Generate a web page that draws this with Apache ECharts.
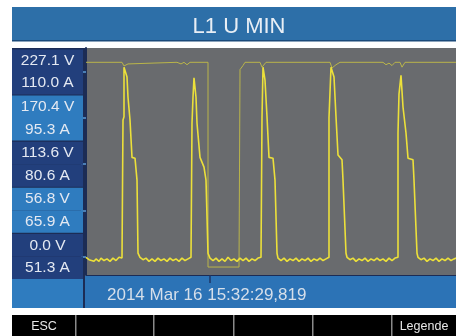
<!DOCTYPE html>
<html>
<head>
<meta charset="utf-8">
<script src="https://cdn.jsdelivr.net/npm/echarts@6/dist/echarts.min.js"></script>
<style>
  html, body { margin: 0; padding: 0; background: #fff; }
  #chart { width: 456px; height: 336px; }
</style>
</head>
<body>
<div id="chart"></div>
<script>
// screen texts
const titleText = "L1 U MIN";
const timestamp = "2014 Mar 16 15:32:29,819";
const softKeys = ["ESC", "", "", "", "", "Legende"];

// left scale: voltage ticks with the matching current labels
const voltTicks = [0, 56.8, 113.6, 170.4, 227.1];
const voltLabels = ["0.0 V", "56.8 V", "113.6 V", "170.4 V", "227.1 V"];
const ampLabels = ["51.3 A", "65.9 A", "80.6 A", "95.3 A", "110.0 A"];

// cursor position on the time axis (samples)
const cursorSample = [124];

// bright trace [sample, V]
const uMin = [
  [0, -1], [3, -4], [5, -2], [8, -6], [10, -3], [13, -6], [15, -2], [18, -5], [21, -3], [24, -6],
  [27, -2], [30, -5], [33, -1], [36, -2],
  [37, -1], [37, 168], [38, 172], [38, 233], [40, 233], [41, 221], [42, 196], [44, 168], [46, 122],
  [49, 121], [51, 94], [52, 4], [54, -1],
  [57, -4], [60, -2], [63, -6], [66, -3], [69, -6], [72, -2], [75, -5], [78, -3], [81, -6], [84, -2],
  [87, -5], [90, -3], [93, -6], [96, -2], [99, -5], [102, -3], [105, -1],
  [106, -1], [106, 164], [107, 196], [108, 220], [110, 196], [111, 164], [114, 122], [118, 110],
  [120, 94], [122, 4], [124, -2],
  [127, -5], [130, -2], [133, -6], [136, -3], [139, -6], [142, -1], [145, -5], [148, -3], [151, -6],
  [154, -2], [157, -5], [160, -2], [163, -6], [166, -3], [169, -5], [172, -2], [175, -1],
  [176, -1], [176, 171], [177, 233], [179, 217], [181, 172], [183, 122], [187, 121], [189, 94],
  [191, 4], [192, -2],
  [195, -5], [198, -2], [201, -6], [204, -3], [207, -5], [210, -2], [213, -6], [216, -3], [219, -5],
  [222, -2], [225, -6], [228, -3], [231, -5], [234, -2], [237, -5], [240, -3], [242, -1],
  [243, -1], [243, 171], [245, 233], [248, 221], [250, 172], [252, 125], [256, 119], [257, 94],
  [260, 4], [261, -1],
  [264, -4], [267, -2], [270, -6], [273, -3], [276, -5], [279, -2], [282, -6], [285, -3], [288, -5],
  [291, -2], [294, -5], [297, -3], [300, -6], [303, -2], [306, -5], [309, -2], [311, -1],
  [312, -1], [312, 152], [313, 200], [315, 223], [317, 184], [320, 152], [322, 121], [327, 119],
  [328, 94], [331, 4], [332, -1],
  [335, -4], [338, -2], [341, -6], [344, -3], [347, -5], [350, -2], [353, -6], [356, -3], [359, -5],
  [362, -2], [365, -5], [368, -3], [370, -2]
];

// dim trace [sample, V]
const uRef = [
  [0, 239], [36, 239], [38, 234.5], [42, 237], [44, 239], [91, 239], [95, 237], [98, 239],
  [101, 236], [104, 239], [122, 239], [122, -13], [153, -13], [154, 230], [157, 235], [159, 239],
  [174, 239], [176, 233], [180, 239], [244, 239], [246, 232], [250, 236], [254, 239], [297, 239],
  [300, 236], [303, 238], [306, 235], [309, 239], [314, 239], [316, 233], [319, 239], [370, 239]
];

const chart = echarts.init(document.getElementById("chart"));

const font = "Liberation Sans, Arial, sans-serif";
const boxStyle = function (bg) {
  return {
    backgroundColor: bg,
    width: 71,
    height: 22.5,
    lineHeight: 22.5,
    align: "center",
    color: "#e4e9f2",
    fontSize: 15.5,
    fontFamily: font
  };
};

const keyEdges = [12, 76, 154, 234, 313, 392, 456];
const keyGraphics = [];
softKeys.forEach((k, i) => {
  if (i > 0) {
    keyGraphics.push({
      type: "rect", z: -1,
      shape: { x: keyEdges[i] - 1, y: 315, width: 1.5, height: 21 },
      style: { fill: "#8a8a8a" }
    });
  }
  if (k) {
    keyGraphics.push({
      type: "text",
      x: (keyEdges[i] + keyEdges[i + 1]) / 2, y: 327,
      style: { text: k, fill: "#e8e8e8", font: "12.5px " + font, textAlign: "center", textVerticalAlign: "middle" }
    });
  }
});

const option = {
  animation: false,
  backgroundColor: "#ffffff",
  title: {
    text: titleText,
    left: 234,
    top: 11,
    textAlign: "center",
    textStyle: { color: "#e8eef5", fontSize: 22, fontWeight: "normal", fontFamily: font }
  },
  grid: {
    left: 86,
    right: 0,
    top: 48,
    bottom: 61,
    show: true,
    backgroundColor: "#696b6e",
    borderWidth: 0
  },
  xAxis: {
    type: "value",
    min: 0,
    max: 370,
    splitLine: { show: false },
    axisLine: { show: true, onZero: false, lineStyle: { color: "#1c2c55", width: 1 } },
    axisTick: { show: true, customValues: cursorSample, length: 8, lineStyle: { color: "#1d3565", width: 1.5 } },
    axisLabel: { show: false }
  },
  yAxis: {
    type: "value",
    min: -22.8,
    max: 256.6,
    splitLine: { show: false },
    axisLine: { show: true, lineStyle: { color: "#1c2c55", width: 2 } },
    axisTick: { show: true, customValues: voltTicks, length: 5, lineStyle: { color: "#5b9bd6", width: 1.5 } },
    axisLabel: {
      customValues: voltTicks,
      margin: 3,
      formatter: function (value) {
        const i = voltTicks.indexOf(value);
        const s = i % 2 === 0 ? "d" : "l";
        return "{" + s + "|" + voltLabels[i] + "}\n{" + s + "|" + ampLabels[i] + "}";
      },
      rich: {
        d: boxStyle("#223f7c"),
        l: boxStyle("#2f7cbf")
      }
    }
  },
  graphic: [
    { type: "rect", z: -1, shape: { x: 12, y: 7, width: 444, height: 34 }, style: { fill: "#2d6fa8" } },
    { type: "rect", z: -1, shape: { x: 12, y: 40, width: 444, height: 1.5 }, style: { fill: "#1b4a7a" } },
    { type: "rect", z: -1, shape: { x: 12, y: 48, width: 73, height: 228 }, style: { fill: "#1c2c55" } },
    { type: "rect", z: -1, shape: { x: 12, y: 276, width: 444, height: 32 }, style: { fill: "#2c73b6" } },
    { type: "rect", z: -1, shape: { x: 12, y: 276, width: 71, height: 32 }, style: { fill: "#2f7cbf" } },
    { type: "rect", z: -1, shape: { x: 83, y: 276, width: 2, height: 32 }, style: { fill: "#1c2c55" } },
    {
      type: "text", x: 107, y: 295,
      style: { text: timestamp, fill: "#d6dfea", font: "17px " + font, textVerticalAlign: "middle" }
    },
    { type: "rect", z: -1, shape: { x: 12, y: 315, width: 444, height: 21 }, style: { fill: "#000000" } }
  ].concat(keyGraphics),
  series: [
    {
      name: "ref",
      type: "line",
      data: uRef,
      symbol: "none",
      lineStyle: { color: "#bab54a", width: 1 }
    },
    {
      name: "min",
      type: "line",
      data: uMin,
      symbol: "none",
      lineStyle: { color: "#ece03a", width: 1.6 }
    }
  ]
};

chart.setOption(option);
</script>
</body>
</html>
